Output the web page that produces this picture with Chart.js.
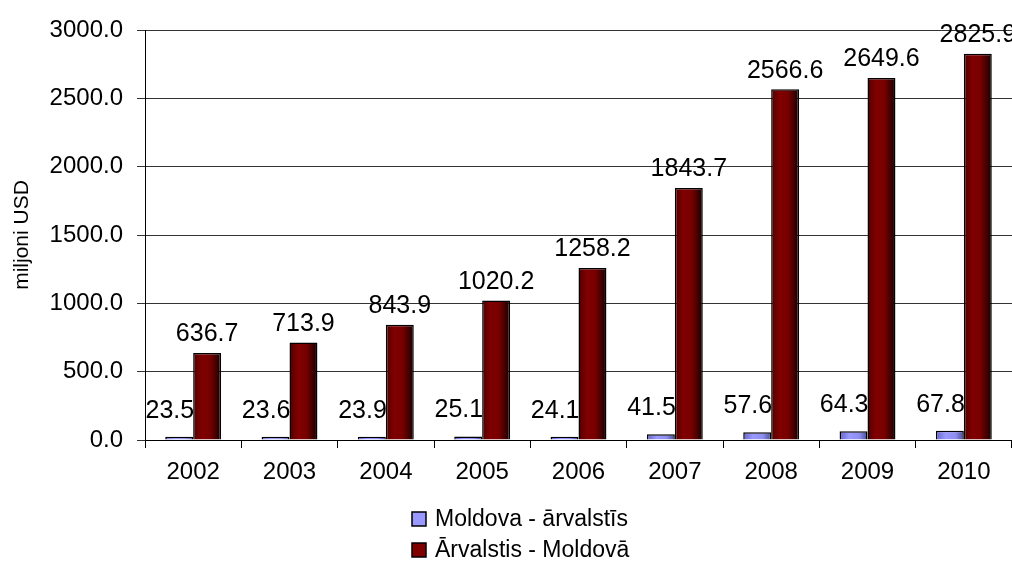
<!DOCTYPE html>
<html>
<head>
<meta charset="utf-8">
<script src="https://cdn.jsdelivr.net/npm/chart.js@4.4.0/dist/chart.umd.min.js"></script>
<style>
    body { margin: 0; background: #fff; }
    #wrap { width: 1012px; height: 563px; }
</style>
</head>
<body>
<div id="wrap"><canvas id="fdiChart" width="1012" height="563"></canvas></div>
<script>
const years = ['2002', '2003', '2004', '2005', '2006', '2007', '2008', '2009', '2010'];
const moldovaAbroad = [23.5, 23.6, 23.9, 25.1, 24.1, 41.5, 57.6, 64.3, 67.8];
const abroadMoldova = [636.7, 713.9, 843.9, 1020.2, 1258.2, 1843.7, 2566.6, 2649.6, 2825.9];
const seriesNames = ['Moldova - ārvalstīs', 'Ārvalstis - Moldovā'];
const yMin = 0;
const yMax = 3000;
const yStep = 500;

const FONT = "'Liberation Sans', Arial, sans-serif";
const CAT_PCT = 0.58;

// horizontal shading like the old excel bars
const shades = [
    [[0, '#6464c8'], [0.35, '#9999ff'], [0.7, '#8e8ef0'], [1, '#4a4a99']],
    [[0, '#500000'], [0.3, '#800000'], [0.6, '#780000'], [1, '#160000']]
];
const solid = ['#9999ff', '#800000'];

const barFill = (ctx) => {
    const chart = ctx.chart;
    const xs = chart.scales.x;
    if (!chart.chartArea || !xs || ctx.type !== 'data') return solid[ctx.datasetIndex];
    const center = xs.getPixelForValue(ctx.dataIndex);
    const w = xs.width / years.length * CAT_PCT / 2;
    const left = ctx.datasetIndex === 0 ? center - w : center;
    const g = chart.ctx.createLinearGradient(left, 0, left + w, 0);
    shades[ctx.datasetIndex].forEach(s => g.addColorStop(s[0], s[1]));
    return g;
};

const valueLabels = {
    id: 'valueLabels',
    afterDatasetsDraw(chart) {
        const c = chart.ctx;
        c.save();
        c.fillStyle = '#000';
        c.font = '25px ' + FONT;
        chart.data.datasets.forEach((ds, di) => {
            chart.getDatasetMeta(di).data.forEach((el, i) => {
                const txt = ds.data[i].toFixed(1);
                if (di === 0) {
                    c.textAlign = 'right';
                    c.textBaseline = 'middle';
                    c.fillText(txt, el.x + el.width / 2 + 1, el.y - 26);
                } else {
                    c.textAlign = 'center';
                    c.textBaseline = 'bottom';
                    c.fillText(txt, el.x, el.y - 6);
                }
            });
        });
        c.restore();
    }
};

const stackedLegend = {
    id: 'stackedLegend',
    afterDraw(chart) {
        const c = chart.ctx;
        c.save();
        c.font = '23px ' + FONT;
        c.textBaseline = 'middle';
        c.textAlign = 'left';
        seriesNames.forEach((name, i) => {
            const y = 519 + i * 31;
            c.fillStyle = solid[i];
            c.fillRect(412, y - 7, 14, 14);
            c.strokeStyle = '#000';
            c.lineWidth = 1.5;
            c.strokeRect(412, y - 7, 14, 14);
            c.fillStyle = '#000';
            c.fillText(name, 435, y + 1);
        });
        c.restore();
    }
};

const ctx = document.getElementById('fdiChart').getContext('2d');
new Chart(ctx, {
    type: 'bar',
    data: {
        labels: years,
        datasets: [
            {
                label: seriesNames[0],
                data: moldovaAbroad,
                backgroundColor: barFill,
                borderColor: '#000',
                borderWidth: 1.5
            },
            {
                label: seriesNames[1],
                data: abroadMoldova,
                backgroundColor: barFill,
                borderColor: '#000',
                borderWidth: 1.5
            }
        ]
    },
    options: {
        responsive: false,
        animation: false,
        devicePixelRatio: 1,
        categoryPercentage: CAT_PCT,
        barPercentage: 1.0,
        layout: { padding: { top: 30, right: 0, bottom: 83, left: 0 } },
        plugins: {
            legend: { display: false },
            tooltip: { enabled: false }
        },
        scales: {
            x: {
                grid: {
                    drawOnChartArea: false,
                    tickLength: 8,
                    color: '#000'
                },
                border: { color: '#000', width: 1 },
                ticks: {
                    color: '#000',
                    padding: 10,
                    maxRotation: 0,
                    font: { family: FONT, size: 24 }
                },
                afterFit(scale) { scale.height = 40; }
            },
            y: {
                min: yMin,
                max: yMax,
                grid: {
                    color: '#333',
                    tickLength: 8
                },
                border: { color: '#000', width: 1 },
                ticks: {
                    stepSize: yStep,
                    color: '#000',
                    padding: 14,
                    font: { family: FONT, size: 24 },
                    callback: (v) => Number(v).toFixed(1)
                },
                title: {
                    display: true,
                    text: 'miljoni USD',
                    color: '#000',
                    padding: { top: 10, bottom: 0 },
                    font: { family: FONT, size: 21 }
                },
                afterFit(scale) { scale.width = 145; }
            }
        }
    },
    plugins: [valueLabels, stackedLegend]
});
</script>
</body>
</html>
